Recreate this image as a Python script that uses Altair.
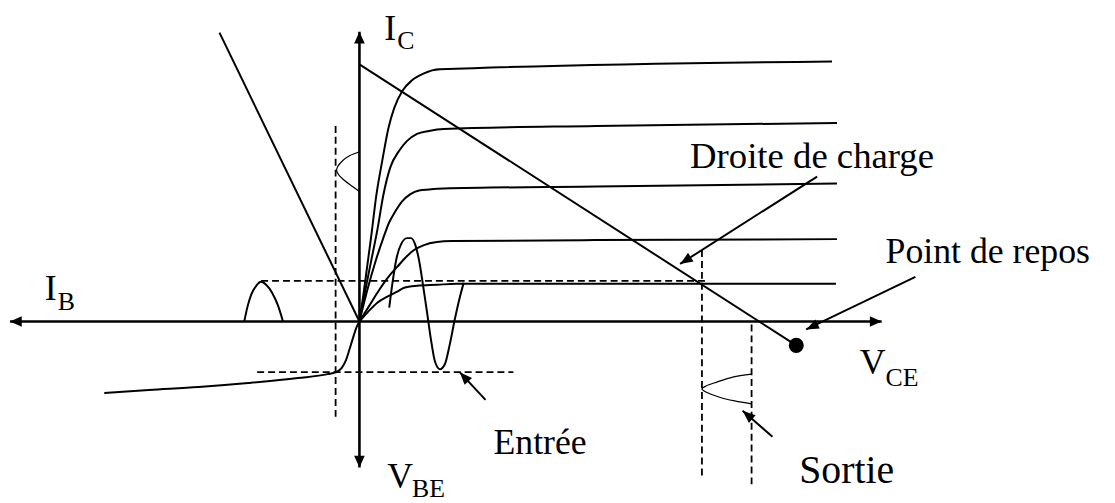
import math
import altair as alt
import pandas as pd

# ---------------- data (diagram units: origin at the axis crossing, x right, y up) ----
AXIS_H_X = [-352, 526]
AXIS_H_Y = [0, 0]
AXIS_V_X = [0, 0]
AXIS_V_Y = [292, -147]

GAIN_X = [-141, 0]
GAIN_Y = [291, 0]

LOAD_X = [0, 440]
LOAD_Y = [259, -24]

C1_X = [0, 4, 8, 12, 17, 23, 29, 35, 43, 53, 65, 81, 476]
C1_Y = [0, 27, 57, 87, 127, 162, 194, 215, 232, 243, 250, 254, 262]
C2_X = [0, 6, 12, 18, 24, 31, 40, 48, 58, 70, 85, 238, 481]
C2_Y = [0, 32, 62, 92, 127, 155, 172, 182, 189, 192, 194, 197, 200]
C3_X = [0, 8, 16, 24, 30, 35, 43, 51, 60, 70, 85, 238, 481]
C3_Y = [0, 32, 60, 84, 100, 109, 121, 128, 132, 133, 134, 136, 139]
C4_X = [0, 10, 20, 30, 38, 47, 55, 65, 78, 93, 238, 481]
C4_Y = [0, 16, 32, 46, 55, 65, 72, 77, 80, 81, 82, 83]
C5_X = [0, 8, 18, 28, 38, 45, 58, 78, 98, 480]
C5_Y = [0, 9, 19, 25, 30, 34, 36, 37, 38, 38]

SINE_X = [30, 33, 37, 42, 48, 52, 56, 60, 64, 68, 72, 76, 81, 86, 91, 96, 101, 105]
SINE_Y = [14, 37, 62, 78, 84, 84, 78, 62, 37, 10, -18, -40, -48, -43, -23, 2, 24, 39]

INPUT_X = [-257, -212, -162, -112, -62, -32, -24, -18, -14, -10, -6, -3, 0]
INPUT_Y = [-72, -69, -66, -62, -57, -53, -51, -47, -40, -28, -15, -6, 0]

HUMP_X = [-116, -113, -109, -104, -99, -94, -88, -82, -77]
HUMP_Y = [0, 14, 27, 36, 40, 37, 29, 16, 0]

WAVE_L_X = [0, -10, -17, -22, -23, -21, -15, -7, 0]
WAVE_L_Y = [171, 167, 162, 156, 152, 148, 142, 136, 131]

WAVE_OUT_X = [395, 376, 360, 349, 345, 349, 362, 378, 395]
WAVE_OUT_Y = [-53, -56, -61, -65, -68, -71, -76, -80, -83]

DASH_1_X = [-103, 155]; DASH_1_Y = [-51, -51]
DASH_2_X = [-24, -24];  DASH_2_Y = [197, -100]
DASH_3_X = [-99, 351];  DASH_3_Y = [41, 41]
DASH_4_X = [345, 345];  DASH_4_Y = [72, -158]
DASH_5_X = [395, 395];  DASH_5_Y = [-3, -168]

# annotation arrows: tail -> tip
ARROW_TAIL_X = [461, 560, 127, 416]
ARROW_TAIL_Y = [146, 45, -79, -116]
ARROW_TIP_X = [323, 450, 101, 386]
ARROW_TIP_Y = [58, -8, -51, -90]

# axis arrow tips
AXIS_TIP_X = [526, -352, 0, 0]
AXIS_TIP_Y = [0, 0, 292, -147]
AXIS_DIR_X = [1, -1, 0, 0]
AXIS_DIR_Y = [0, 0, 1, -1]

DOT_X = [440]
DOT_Y = [-24]

BIG_TEXT = ["I", "I", "V", "V"]
BIG_X = [25, -317, 504, 28]
BIG_Y = [284, 22, -53, -168]
SUB_TEXT = ["C", "B", "CE", "BE"]
SUB_X = [38, -304, 530, 53]
SUB_Y = [275, 12, -65, -177]

NOTE_TEXT = ["Droite de charge", "Point de repos", "Entrée", "Sortie"]
NOTE_X = [333, 530, 135, 443]
NOTE_Y = [155, 59, -133, -163]

# ---------------- chart -------------------------------------------------------------
XDOM = [-354, 753]
YDOM = [-181, 314]
X = alt.X("x:Q", scale=alt.Scale(domain=XDOM, nice=False, zero=False), axis=None)
Y = alt.Y("y:Q", scale=alt.Scale(domain=YDOM, nice=False, zero=False), axis=None)
FONT = "Liberation Serif"


def df_of(named):
    rows = []
    for name, (xs, ys) in named.items():
        for i, (a, b) in enumerate(zip(xs, ys)):
            rows.append({"name": name, "i": i, "x": a, "y": b})
    return pd.DataFrame(rows)


def line_layer(named, width, interp="linear", dash=None):
    kw = dict(color="black", strokeWidth=width, interpolate=interp)
    if dash:
        kw["strokeDash"] = dash
    return alt.Chart(df_of(named)).mark_line(**kw).encode(
        x=X, y=Y, detail="name:N", order="i:Q")


axes = line_layer({"h": (AXIS_H_X, AXIS_H_Y), "v": (AXIS_V_X, AXIS_V_Y)}, 2.6)
straight = line_layer({"gain": (GAIN_X, GAIN_Y), "load": (LOAD_X, LOAD_Y)}, 2)
curves = line_layer({"c1": (C1_X, C1_Y), "c2": (C2_X, C2_Y), "c3": (C3_X, C3_Y),
                     "c4": (C4_X, C4_Y), "c5": (C5_X, C5_Y),
                     "sine": (SINE_X, SINE_Y), "input": (INPUT_X, INPUT_Y),
                     "hump": (HUMP_X, HUMP_Y)}, 2, interp="monotone")
thin = line_layer({"wl": (WAVE_L_X, WAVE_L_Y), "wo": (WAVE_OUT_X, WAVE_OUT_Y)},
                  1.2, interp="catmull-rom")
dashes = line_layer({"d1": (DASH_1_X, DASH_1_Y), "d2": (DASH_2_X, DASH_2_Y),
                     "d3": (DASH_3_X, DASH_3_Y), "d4": (DASH_4_X, DASH_4_Y),
                     "d5": (DASH_5_X, DASH_5_Y)}, 1.8, dash=[7, 4])
arrow_shafts = line_layer({f"a{k}": ([ARROW_TAIL_X[k], ARROW_TIP_X[k]],
                                      [ARROW_TAIL_Y[k], ARROW_TIP_Y[k]])
                           for k in range(len(ARROW_TIP_X))}, 2)


def heading(dx, dy):
    return math.degrees(math.atan2(dx, dy)) % 360


head_rows = []
for k in range(len(ARROW_TIP_X)):
    head_rows.append({"x": ARROW_TIP_X[k], "y": ARROW_TIP_Y[k],
                      "a": heading(ARROW_TIP_X[k] - ARROW_TAIL_X[k],
                                   ARROW_TIP_Y[k] - ARROW_TAIL_Y[k])})
axis_rows = []
for k in range(len(AXIS_TIP_X)):
    axis_rows.append({"x": AXIS_TIP_X[k], "y": AXIS_TIP_Y[k],
                      "a": heading(AXIS_DIR_X[k], AXIS_DIR_Y[k])})

HEAD = "M0,0L-0.4,1L0.4,1Z"
note_heads = alt.Chart(pd.DataFrame(head_rows)).mark_point(
    shape=HEAD, filled=True, color="black", opacity=1, size=650, strokeWidth=0
).encode(x=X, y=Y, angle=alt.Angle("a:Q", scale=None))
axis_heads = alt.Chart(pd.DataFrame(axis_rows)).mark_point(
    shape="M0,0L-0.45,1L0.45,1Z", filled=True, color="black", opacity=1, size=560,
    strokeWidth=0
).encode(x=X, y=Y, angle=alt.Angle("a:Q", scale=None))

dot = alt.Chart(pd.DataFrame({"x": DOT_X, "y": DOT_Y})).mark_point(
    shape="circle", filled=True, color="black", opacity=1, size=230
).encode(x=X, y=Y)


def text_layer(texts, xs, ys, size):
    return alt.Chart(pd.DataFrame({"t": texts, "x": xs, "y": ys})).mark_text(
        font=FONT, fontSize=size, color="black", align="left", baseline="alphabetic"
    ).encode(x=X, y=Y, text="t:N")


big = text_layer(BIG_TEXT, BIG_X, BIG_Y, 36)
sub = text_layer(SUB_TEXT, SUB_X, SUB_Y, 26)
note_sizes = [37, 36, 36, 40]
notes = [text_layer([NOTE_TEXT[k]], [NOTE_X[k]], [NOTE_Y[k]], note_sizes[k])
         for k in range(len(NOTE_TEXT))]

chart = alt.layer(
    dashes, axes, straight, curves, thin, arrow_shafts, note_heads, axis_heads, dot,
    big, sub, *notes
).properties(
    width=1107, height=495, padding=0,
    autosize=alt.AutoSizeParams(type="none"),
    background="white",
).configure_view(stroke=None)

chart.save("out.html", embed_options={"renderer": "svg", "actions": False})
